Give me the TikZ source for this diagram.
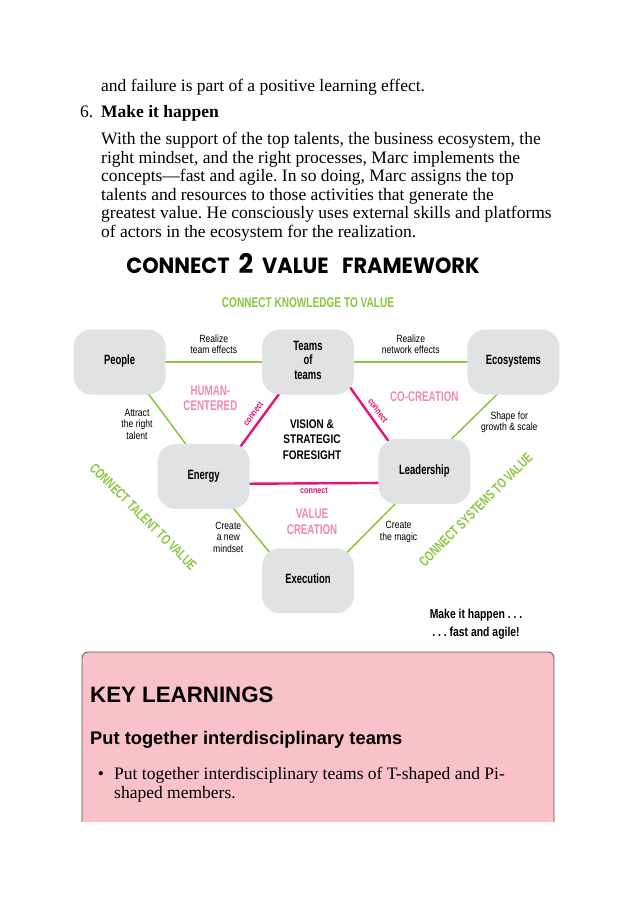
\documentclass[tikz,border=0pt]{standalone}
\usepackage{fontspec}
\setmainfont{Liberation Serif}
\newfontfamily\diagfont{Liberation Sans}
\newfontfamily\handfont{Poppins}
\usetikzlibrary{positioning, calc, backgrounds}
\frenchspacing

\definecolor{limegreen}{HTML}{8CC540}
\definecolor{hotmagenta}{HTML}{E2137D}
\definecolor{softpink}{HTML}{F28AAA}
\definecolor{blobgray}{HTML}{E1E2E3}
\definecolor{keypink}{HTML}{F9C2C9}
\definecolor{boxedge}{HTML}{555555}

% squeezed (condensed) text, centred lines
\newcommand{\squeeze}[2][0.7]{\scalebox{#1}[1]{\begin{tabular}{@{}c@{}}#2\end{tabular}}}

\begin{document}
\begin{tikzpicture}[
    x=1pt, y=1pt,
    blob/.style={fill=blobgray, rounded corners=18pt, minimum width=92pt, minimum height=65pt,
        inner sep=2pt, font=\diagfont\bfseries\fontsize{13.5}{14.5}\selectfont},
    edgelabel/.style={text=black, font=\diagfont\fontsize{10.5}{11.5}\selectfont, inner sep=4pt},
    knowledge/.style={limegreen, line width=1.5pt, shorten <=-8pt, shorten >=-8pt},
    linkline/.style={hotmagenta, line width=2.4pt, shorten <=-8pt, shorten >=-8pt},
    linklabel/.style={hotmagenta, font=\diagfont\bfseries\fontsize{9}{10}\selectfont, inner sep=2pt},
    zonelabel/.style={softpink, font=\diagfont\bfseries\fontsize{14}{15.5}\selectfont},
    axislabel/.style={limegreen, font=\diagfont\bfseries\fontsize{14}{15}\selectfont},
    bodytext/.style={font=\fontsize{17.5}{18.5}\selectfont, inner sep=0pt, align=left}
]

\begin{scope}[on background layer]
    \fill[white] (0,0) rectangle (636,-900);
\end{scope}
\useasboundingbox (0,0) rectangle (636,-900);

% running text above the figure
\node[bodytext, anchor=base west] (failure) at (101,-91) {and failure is part of a positive learning effect.};
\node[bodytext, anchor=base west] (stepnum) at (80,-117) {6.};
\node[bodytext, anchor=base west, font=\bfseries\fontsize{17.5}{18.5}\selectfont] (stephead) at (101,-117) {Make it happen};
\node[bodytext, anchor=north west] (para) at (101,-132) {With the support of the top talents, the business ecosystem, the\\
right mindset, and the right processes, Marc implements the\\
concepts---fast and agile. In so doing, Marc assigns the top\\
talents and resources to those activities that generate the\\
greatest value. He consciously uses external skills and platforms\\
of actors in the ecosystem for the realization.};

% figure title
\node[font=\handfont\bfseries\fontsize{22}{24}\selectfont] (title) at (303,-264)
    {\scalebox{0.95}[1]{CONNECT\ \ {\fontsize{27}{28}\selectfont 2}\ \ VALUE\ \ \ FRAMEWORK}};

% the six blobs
\node[blob] (teams) at (308,-362) {\squeeze{Teams\\of\\teams}};
\node[blob, left=96pt of teams] (people) {\squeeze{People}};
\node[blob, right=113pt of teams] (ecosystems) {\squeeze{Ecosystems}};
\node[blob, below left=49pt and 12pt of teams] (energy) {\squeeze{Energy}};
\node[blob, below right=44pt and 24pt of teams] (leadership) {\squeeze{Leadership}};
\node[blob, below right=39pt and 12pt of energy] (execution) {\squeeze{Execution}};

\begin{scope}[on background layer]
    \draw[knowledge] (people.east) -- node[edgelabel, above] {\squeeze[0.82]{Realize\\team effects}} (teams.west);
    \draw[knowledge] (teams.east) -- node[edgelabel, above] {\squeeze[0.82]{Realize\\network effects}} (ecosystems.west);
    \draw[knowledge] (people.312) -- node[edgelabel, left, xshift=-10pt, yshift=-6pt] {\squeeze[0.82]{Attract\\the right\\talent}} (energy.119);
    \draw[knowledge] (ecosystems.243) -- node[edgelabel, right, xshift=2pt, yshift=-6pt] {\squeeze[0.82]{Shape for\\growth \& scale}} (leadership.50);
    \draw[knowledge] (energy.313) -- node[edgelabel, left, xshift=-2pt, yshift=-10pt] {\squeeze[0.82]{Create\\a new\\mindset}} (execution.142);
    \draw[knowledge] (leadership.228) -- node[edgelabel, right, xshift=2pt, yshift=-6pt] {\squeeze[0.82]{Create\\the magic}} (execution.37);

    \draw[linkline] (teams.228) -- node[linklabel, sloped, above] {\squeeze[0.8]{connect}} (energy.40);
    \draw[linkline] (teams.326) -- node[linklabel, sloped, above] {\squeeze[0.8]{connect}} (leadership.139);
    \draw[linkline] (energy.351) -- node[linklabel, below] {\squeeze[0.8]{connect}} (leadership.194);
\end{scope}

% zone labels
\node[zonelabel] (human) at (barycentric cs:people=1,teams=1,energy=1) {\squeeze{HUMAN-\\CENTERED}};
\node[zonelabel, xshift=9pt] (cocreation) at (barycentric cs:teams=1,ecosystems=1,leadership=1) {\squeeze{CO-CREATION}};
\node[zonelabel, yshift=-14pt] (valuecreation) at (barycentric cs:energy=1,leadership=1,execution=1) {\squeeze{VALUE\\CREATION}};
\node[font=\diagfont\bfseries\fontsize{12.5}{15.5}\selectfont, yshift=-4pt] (vision)
    at (barycentric cs:teams=1,energy=1,leadership=1) {\squeeze[0.8]{VISION \&\\STRATEGIC\\FORESIGHT}};

% the three "connect ... to value" axes
\node[axislabel, above=14pt of teams] (knowvalue) {\squeeze[0.72]{CONNECT KNOWLEDGE TO VALUE}};
\node[axislabel, rotate=-45] (talentvalue) at (142,-518) {\squeeze[0.72]{CONNECT TALENT TO VALUE}};
\node[axislabel, rotate=45] (systemsvalue) at (477,-511) {\squeeze[0.72]{CONNECT SYSTEMS TO VALUE}};

\node[font=\diagfont\bfseries\fontsize{13}{18.5}\selectfont] (motto) at (476,-624)
    {\squeeze[0.8]{Make it happen . . .\\. . . fast and agile!}};

% key learnings box
\path[fill=keypink, draw=boxedge, line width=0.8pt, rounded corners=6pt] (82,-822) |- (554,-652) -- (554,-822);
\node[anchor=base west, inner sep=0pt, font=\diagfont\bfseries\fontsize{22.3}{24}\selectfont] (keyhead) at (90,-702) {KEY LEARNINGS};
\node[anchor=base west, inner sep=0pt, font=\diagfont\bfseries\fontsize{18.3}{20}\selectfont] (keysub) at (90,-744.5) {Put together interdisciplinary teams};
\node[bodytext, anchor=base] (bullet) at (101,-779) {\textbullet};
\node[bodytext, anchor=north west] (keytext) at (114,-767) {Put together interdisciplinary teams of T-shaped and Pi-\\shaped members.};

\end{tikzpicture}
\end{document}
